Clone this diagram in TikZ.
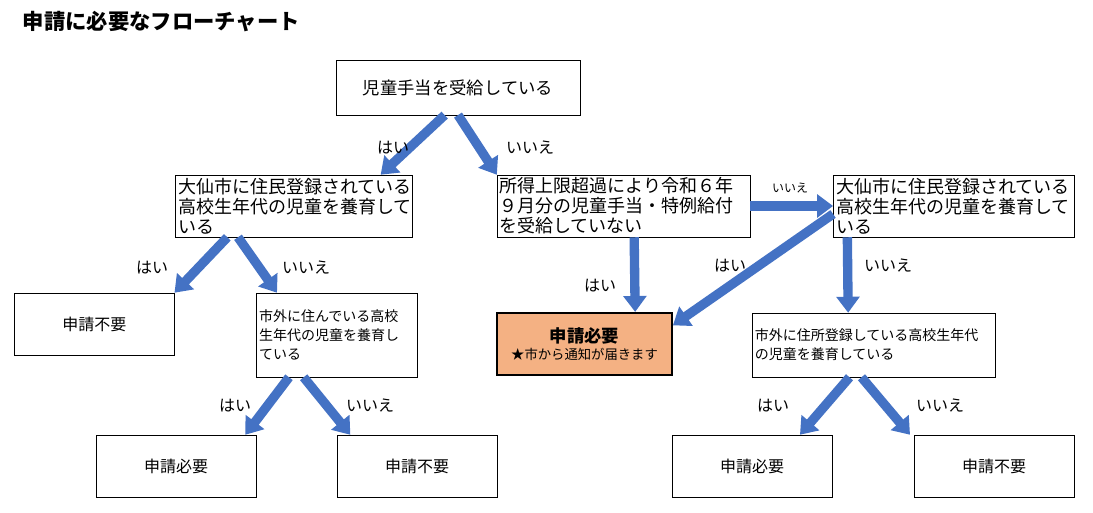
\documentclass[tikz,border=0pt]{standalone}
\usepackage{fontspec}
\setmainfont{Noto Sans CJK JP}
\usetikzlibrary{arrows.meta}
\definecolor{flowblue}{HTML}{4472C4}
\definecolor{yesfill}{HTML}{F4B183}
\tikzset{
  box/.style={draw, thin, inner sep=2pt, font=\fontsize{13}{15}\selectfont},
  qbox/.style={box, minimum height=46.5pt, align=left, font=\fontsize{13.5}{15}\selectfont},
  small/.style={box, font=\fontsize{10.5}{14}\selectfont, align=left},
  leaf/.style={box, minimum width=120pt, minimum height=46.5pt, font=\fontsize{12}{14}\selectfont},
  flow/.style={flowblue, line width=7pt, -{Triangle[width=17pt,length=12pt]}},
  lab/.style={font=\fontsize{12}{14}\selectfont},
}
\begin{document}
\begin{tikzpicture}[x=0.75pt,y=-0.75pt]
\useasboundingbox (0,0) rectangle (1093,513);
% title
\node[anchor=west, font=\fontsize{16}{18}\selectfont\bfseries] (title) at (18,22) {申請に必要なフローチャート};
% questions
\node[box, minimum width=183pt, minimum height=41pt] (start) at (458,87.5) {児童手当を受給している};
\node[qbox, text width=174pt] (city1) at (294,206) {大仙市に住民登録されている\\高校生年代の児童を養育して\\いる};
\node[qbox, text width=186pt] (income) at (623.5,206) {所得上限超過により令和６年\\９月分の児童手当・特例給付\\を受給していない};
\node[qbox, text width=177pt] (city2) at (954,206) {大仙市に住民登録されている\\高校生年代の児童を養育して\\いる};
\node[small, text width=117pt, minimum height=63pt] (out1) at (337,335) {市外に住んでいる高校\\生年代の児童を養育し\\ている};
\node[small, text width=178pt, minimum height=48pt] (out2) at (873.5,345) {市外に住所登録している高校生年代\\の児童を養育している};
% results
\node[leaf] (no1) at (94.5,324) {申請不要};
\node[box, line width=1.6pt, fill=yesfill, minimum width=131pt, minimum height=46.5pt, align=center] (notice) at (584.5,344) {\textbf{申請必要}\\[-2pt]{\fontsize{10}{12}\selectfont ★市から通知が届きます}};
\node[leaf] (yes1) at (176,466) {申請必要};
\node[leaf] (no2) at (417,466) {申請不要};
\node[leaf] (yes2) at (752,466) {申請必要};
\node[leaf] (no3) at (994,466) {申請不要};
% arrows
\draw[flow] ([xshift=-10pt]start.south) -- ([xshift=65pt]city1.north);
\draw[flow] ([xshift=0pt]start.south) -- ([xshift=-95pt]income.north);
\draw[flow] ([xshift=-50pt]city1.south) -- ([xshift=60pt]no1.north);
\draw[flow] ([xshift=-42pt]city1.south) -- ([xshift=-45pt]out1.north);
\draw[flow] ([xshift=8pt]income.south) -- ([xshift=38pt]notice.north);
\draw[flow] (income.east) -- (city2.west);
\draw[flow] ([yshift=-6pt]city2.west) -- ([yshift=14pt]notice.east);
\draw[flow] ([xshift=-80pt]city2.south) -- ([xshift=-19pt]out2.north);
\draw[flow] ([xshift=-36pt]out1.south) -- ([xshift=52pt]yes1.north);
\draw[flow] ([xshift=-25pt]out1.south) -- ([xshift=-50pt]no2.north);
\draw[flow] ([xshift=-18pt]out2.south) -- ([xshift=36pt]yes2.north);
\draw[flow] ([xshift=-9pt]out2.south) -- ([xshift=-63pt]no3.north);
% labels
\node[lab] (l1) at (393,148) {はい};
\node[lab] (l2) at (530,148) {いいえ};
\node[lab] (l3) at (152,268) {はい};
\node[lab] (l4) at (306,268) {いいえ};
\node[lab] (l5) at (600,286) {はい};
\node[lab, font=\fontsize{9}{11}\selectfont] (l6) at (790,188) {いいえ};
\node[lab] (l7) at (730,266) {はい};
\node[lab] (l8) at (888,266) {いいえ};
\node[lab] (l9) at (235,406) {はい};
\node[lab] (l10) at (370,406) {いいえ};
\node[lab] (l11) at (773,406) {はい};
\node[lab] (l12) at (940,406) {いいえ};
\end{tikzpicture}
\end{document}
